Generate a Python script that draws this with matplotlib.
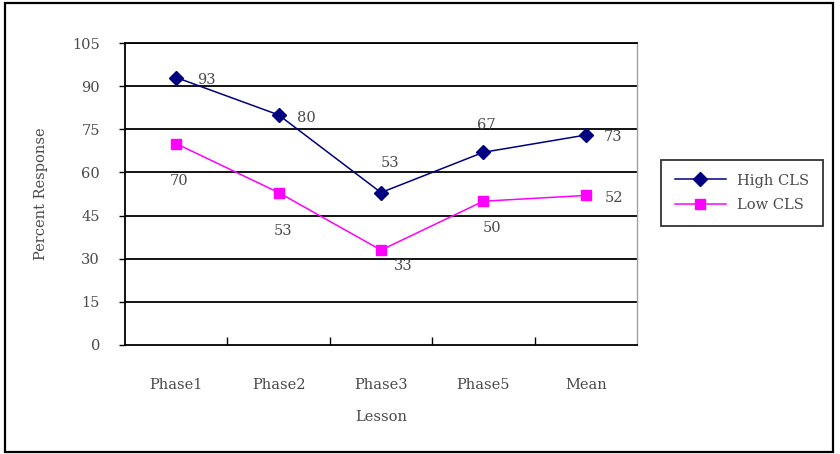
import numpy as np
import matplotlib.pyplot as plt
from matplotlib.patches import Rectangle

# values
lessons = ["Phase1", "Phase2", "Phase3", "Phase5", "Mean"]
high_cls = [93, 80, 53, 67, 73]
low_cls = [70, 53, 33, 50, 52]
yticks = [0, 15, 30, 45, 60, 75, 90, 105]

# where the value labels sit relative to each point (points)
high_offsets = [(22, -2), (20, -2), (6.5, 21), (2, 19.5), (19.5, -1.5)]
low_offsets = [(2, -27), (3.5, -27.5), (16, -11.5), (6, -19.5), (20, -2)]

plt.rcParams['font.family'] = ['DejaVu Serif']
txt = '#4a4a4a'
fs = 10.5

fig = plt.figure(figsize=(8.4, 4.54), dpi=100)
ax = fig.add_axes([125/840, 1 - 345/454, 512/840, 302/454])

# outer frame of the chart
fig.patches.append(Rectangle((5/840, 2/454), 828/840, 449/454, transform=fig.transFigure,
                             fill=False, edgecolor='black', linewidth=1.6))

x = np.arange(len(lessons))
for yv in yticks[1:]:
    ax.axhline(yv, color='black', linewidth=1.3, zorder=1)

ax.plot(x, high_cls, color='#000080', marker='D', markersize=7, linewidth=1.1,
        label='High CLS', zorder=3)
ax.plot(x, low_cls, color='#ff00ff', marker='s', markersize=7.5, linewidth=1.1,
        label='Low CLS', zorder=3)

for xi, v, off in zip(x, high_cls, high_offsets):
    ax.annotate(str(v), (xi, v), xytext=off, textcoords='offset points',
                ha='center', va='center', fontsize=fs, color=txt)
for xi, v, off in zip(x, low_cls, low_offsets):
    ax.annotate(str(v), (xi, v), xytext=off, textcoords='offset points',
                ha='center', va='center', fontsize=fs, color=txt)

ax.set_xlim(-0.5, len(lessons) - 0.5)
ax.set_ylim(0, 105)
ax.set_yticks(yticks)
ax.set_yticklabels([str(t) for t in yticks], fontsize=fs, color=txt)
ax.tick_params(axis='y', length=4, width=1, pad=14)

ax.set_xticks(x)
ax.set_xticklabels(lessons, fontsize=fs, color=txt)
ax.tick_params(axis='x', which='major', length=0, pad=24)
ax.set_xticks(np.arange(0.5, len(lessons) - 0.5, 1), minor=True)
ax.tick_params(axis='x', which='minor', direction='in', length=6, width=1)

for side in ['left', 'bottom', 'top']:
    ax.spines[side].set_color('black')
    ax.spines[side].set_linewidth(1.3)
ax.spines['right'].set_color('#a0a0a0')
ax.spines['right'].set_linewidth(1)

ax.set_xlabel('Lesson', fontsize=fs, color=txt)
ax.xaxis.set_label_coords(0.5, -0.215)
ax.set_ylabel('Percent Response', fontsize=fs, color=txt)
ax.yaxis.set_label_coords(-0.15, 0.5)

leg = fig.legend(loc='center', bbox_to_anchor=(742/840, 1 - 193/454), fontsize=fs,
                 frameon=True, fancybox=False, edgecolor='black', handlelength=3.5,
                 borderpad=0.9, labelspacing=0.75, handletextpad=0.8)
leg.get_frame().set_linewidth(1.3)
for t in leg.get_texts():
    t.set_color(txt)

fig.savefig('out.png', dpi=100)
